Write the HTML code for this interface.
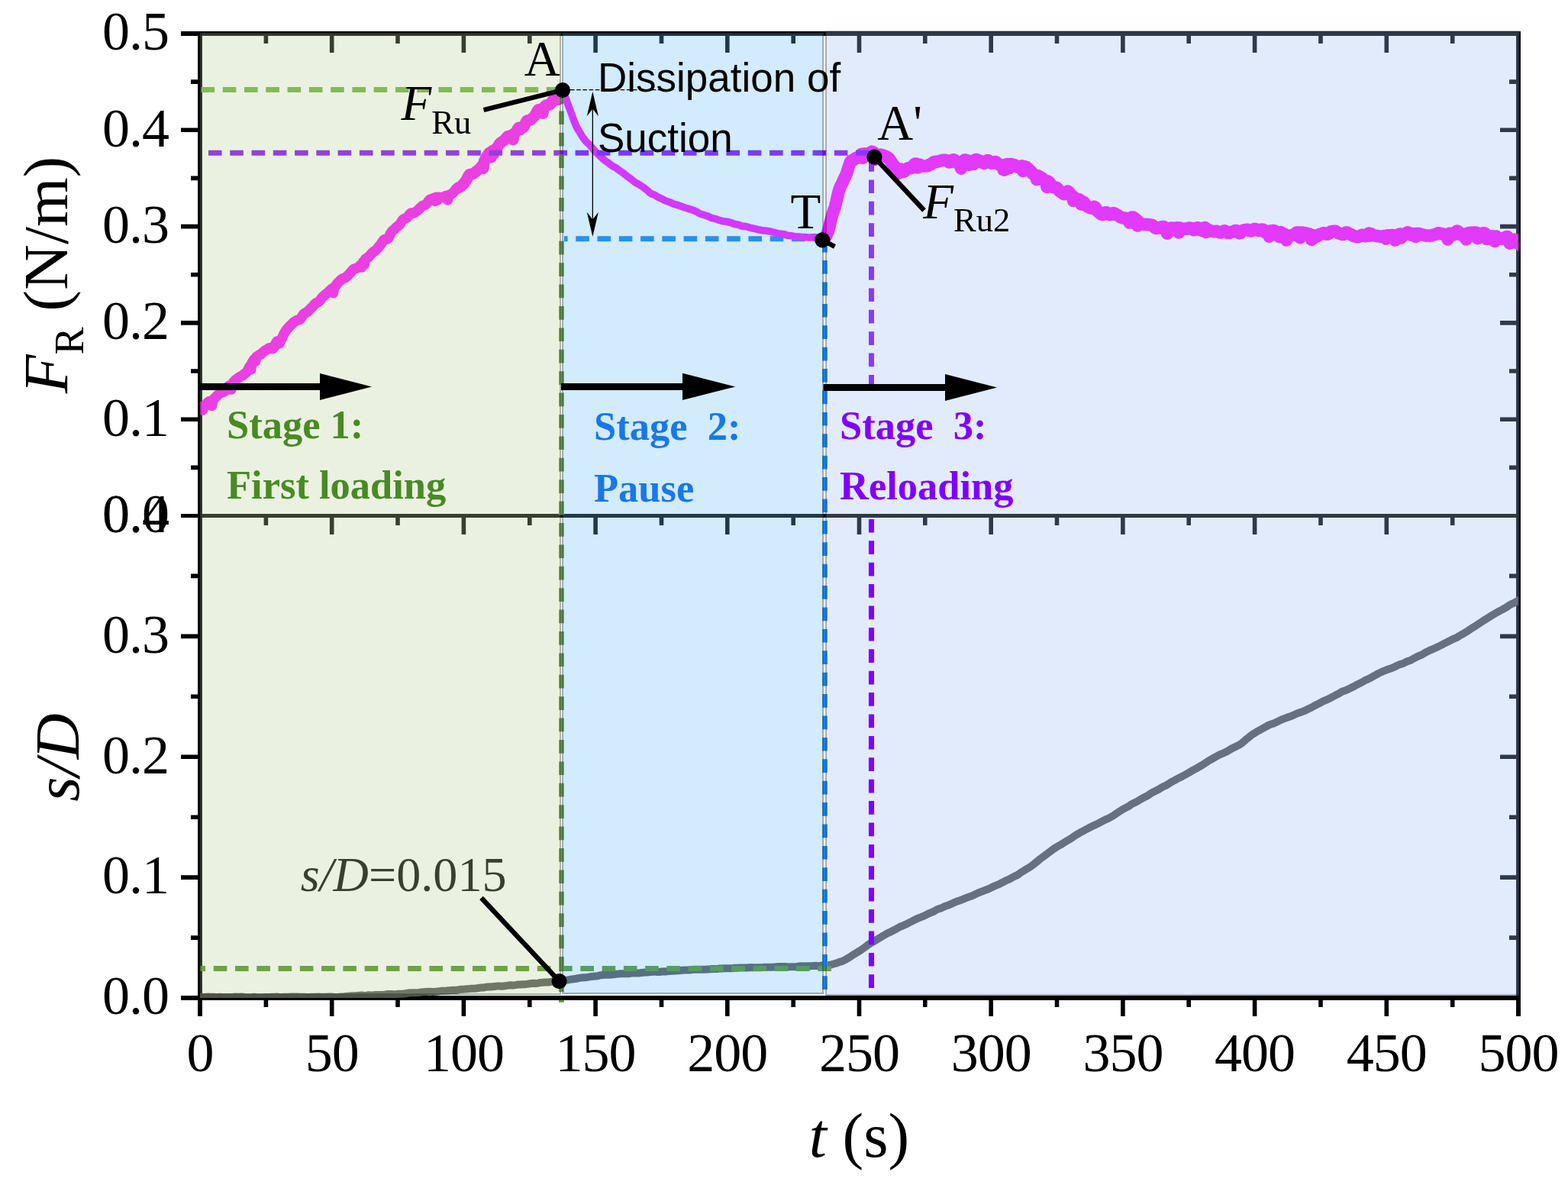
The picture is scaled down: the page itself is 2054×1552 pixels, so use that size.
<!DOCTYPE html>
<html lang="en"><head><meta charset="utf-8"><title>F_R and s/D versus t</title>
<style>html,body{margin:0;padding:0;background:#fff}svg{display:block}text{font-family:"Liberation Serif","DejaVu Serif",serif;fill:#000}.sans{font-family:"Liberation Sans","DejaVu Sans",sans-serif}.tick{font-size:72px;letter-spacing:-1px}.ann{font-size:65px}.ttl{font-size:83px}.stg{font-size:52.5px;font-weight:bold}</style></head><body>
<svg width="2054" height="1552" viewBox="0 0 2054 1552">
<rect width="2054" height="1552" fill="#fff"/>
<g stroke="#000" fill="none" stroke-linecap="butt">
<path stroke-width="5.9" d="M262 41.05 V1331 M1989 41.05 V1331 M237 44 H1991.95 M237 1307 H1991.95"/>
<path stroke-width="5.2" d="M237 675.5 H1989"/>
<path stroke-width="5.6" d="M348.4 44 V57M348.4 675.5 V688M348.4 1307 V1319M434.7 44 V69M434.7 675.5 V700M434.7 1307 V1331M521.0 44 V57M521.0 675.5 V688M521.0 1307 V1319M607.4 44 V69M607.4 675.5 V700M607.4 1307 V1331M693.8 44 V57M693.8 675.5 V688M693.8 1307 V1319M780.1 44 V69M780.1 675.5 V700M780.1 1307 V1331M866.5 44 V57M866.5 675.5 V688M866.5 1307 V1319M952.8 44 V69M952.8 675.5 V700M952.8 1307 V1331M1039.2 44 V57M1039.2 675.5 V688M1039.2 1307 V1319M1125.5 44 V69M1125.5 675.5 V700M1125.5 1307 V1331M1211.8 44 V57M1211.8 675.5 V688M1211.8 1307 V1319M1298.2 44 V69M1298.2 675.5 V700M1298.2 1307 V1331M1384.5 44 V57M1384.5 675.5 V688M1384.5 1307 V1319M1470.9 44 V69M1470.9 675.5 V700M1470.9 1307 V1331M1557.2 44 V57M1557.2 675.5 V688M1557.2 1307 V1319M1643.6 44 V69M1643.6 675.5 V700M1643.6 1307 V1331M1730.0 44 V57M1730.0 675.5 V688M1730.0 1307 V1319M1816.3 44 V69M1816.3 675.5 V700M1816.3 1307 V1331M1902.7 44 V57M1902.7 675.5 V688M1902.7 1307 V1319M262 612.4 H250M1989 612.4 H1977M262 549.2 H237M1989 549.2 H1965M262 486.0 H250M1989 486.0 H1977M262 422.9 H237M1989 422.9 H1965M262 359.8 H250M1989 359.8 H1977M262 296.6 H237M1989 296.6 H1965M262 233.4 H250M1989 233.4 H1977M262 170.3 H237M1989 170.3 H1965M262 107.1 H250M1989 107.1 H1977M262 1228.1 H250M1989 1228.1 H1977M262 1149.1 H237M1989 1149.1 H1965M262 1070.2 H250M1989 1070.2 H1977M262 991.2 H237M1989 991.2 H1965M262 912.3 H250M1989 912.3 H1977M262 833.4 H237M1989 833.4 H1965M262 754.4 H250M1989 754.4 H1977"/>
</g>
<defs><clipPath id="pc1"><rect x="262" y="44" width="1727" height="631.5"/></clipPath><clipPath id="pc2"><rect x="262" y="675.5" width="1727" height="631.5"/></clipPath></defs>
<path d="M738.9 312.8 H1077" stroke="#0a7ee6" stroke-width="7" stroke-dasharray="17.6 10.67" stroke-dashoffset="12.9" fill="none"/>
<g clip-path="url(#pc1)" fill="none" stroke="#ff00ff" stroke-linejoin="round" stroke-linecap="round">
<path d="M258.0 537.1L259.5 536.0L261.0 534.6L262.5 533.4L264.0 532.6L265.5 537.1L267.0 532.6L268.5 531.7L270.0 529.9L271.5 527.7L273.0 526.2L274.5 525.6L276.0 525.6L277.5 531.4L279.0 524.0L280.5 522.3L282.0 520.7L283.5 519.4L285.0 517.7L286.5 516.0L288.0 514.6L289.5 514.0L291.0 514.0L292.5 513.6L294.0 512.2L295.5 509.9L297.0 510.7L298.5 506.1L300.0 505.4L301.5 504.8L303.0 510.0L304.5 502.2L306.0 500.2L307.5 498.5L309.0 497.3L310.5 496.2L312.0 495.1L313.5 493.9L315.0 493.2L316.5 492.5L318.0 491.4L319.5 490.1L321.0 489.2L322.5 488.0L324.0 485.9L325.5 482.9L327.0 479.9L328.5 484.0L330.0 475.2L331.5 472.9L333.0 470.5L334.5 473.4L336.0 467.2L337.5 466.5L339.0 465.3L340.5 464.5L342.0 463.7L343.5 462.3L345.0 461.1L346.5 459.7L348.0 458.7L349.5 457.8L351.0 456.8L352.5 455.9L354.0 455.5L355.5 456.1L357.0 456.7L358.5 455.5L360.0 452.7L361.5 449.3L363.0 447.0L364.5 446.4L366.0 449.9L367.5 446.3L369.0 443.8L370.5 440.5L372.0 437.1L373.5 434.6L375.0 432.3L376.5 430.5L378.0 428.8L379.5 427.3L381.0 425.7L382.5 424.2L384.0 422.8L385.5 421.7L387.0 420.7L388.5 419.6L390.0 419.1L391.5 419.0L393.0 418.3L394.5 416.5L396.0 413.9L397.5 411.7L399.0 410.4L400.5 409.7L402.0 408.9L403.5 407.4L405.0 405.9L406.5 404.4L408.0 403.1L409.5 401.5L411.0 399.7L412.5 398.1L414.0 397.0L415.5 396.2L417.0 395.4L418.5 394.3L420.0 392.4L421.5 390.1L423.0 388.5L424.5 387.3L426.0 386.0L427.5 384.8L429.0 383.7L430.5 382.2L432.0 380.7L433.5 379.1L435.0 378.0L436.5 383.8L438.0 376.1L439.5 374.4L441.0 372.4L442.5 370.5L444.0 369.1L445.5 367.5L447.0 366.1L448.5 365.1L450.0 364.5L451.5 364.1L453.0 363.2L454.5 361.9L456.0 360.4L457.5 358.8L459.0 357.2L460.5 355.4L462.0 353.7L463.5 352.3L465.0 351.8L466.5 351.6L468.0 351.0L469.5 349.9L471.0 348.4L472.5 346.9L474.0 349.9L475.5 343.1L477.0 346.7L478.5 339.3L480.0 338.4L481.5 337.7L483.0 336.4L484.5 334.7L486.0 333.0L487.5 331.3L489.0 329.9L490.5 329.0L492.0 328.1L493.5 326.6L495.0 324.7L496.5 322.8L498.0 321.0L499.5 319.0L501.0 316.5L502.5 314.5L504.0 313.4L505.5 313.4L507.0 313.3L508.5 312.1L510.0 309.3L511.5 305.9L513.0 303.6L514.5 302.0L516.0 300.8L517.5 299.5L519.0 297.8L520.5 296.6L522.0 295.5L523.5 294.1L525.0 291.9L526.5 289.4L528.0 287.5L529.5 286.6L531.0 286.1L532.5 285.4L534.0 284.0L535.5 282.1L537.0 280.3L538.5 279.1L540.0 279.0L541.5 279.2L543.0 278.6L544.5 277.5L546.0 276.4L547.5 275.2L549.0 273.8L550.5 272.2L552.0 270.7L553.5 269.5L555.0 268.9L556.5 268.5L558.0 267.7L559.5 266.1L561.0 263.8L562.5 261.9L564.0 260.9L565.5 260.5L567.0 260.1L568.5 259.2L570.0 263.4L571.5 258.3L573.0 262.5L574.5 258.3L576.0 258.4L577.5 258.5L579.0 258.6L580.5 258.5L582.0 257.6L583.5 256.6L585.0 256.3L586.5 262.0L588.0 255.7L589.5 254.9L591.0 254.2L592.5 253.3L594.0 252.1L595.5 250.0L597.0 248.0L598.5 246.8L600.0 246.0L601.0 245.7" stroke-width="13.5"/>
<path d="M600.0 246.2L601.5 245.3L603.0 244.8L604.5 243.7L606.0 241.9L607.5 240.3L609.0 238.7L610.5 236.8L612.0 233.7L613.5 230.6L615.0 228.5L616.5 227.9L618.0 227.9L619.5 227.7L621.0 226.7L622.5 225.5L624.0 224.3L625.5 223.2L627.0 221.9L628.5 220.6L630.0 219.1L631.5 217.0L633.0 220.5L634.5 210.6L636.0 208.1L637.5 205.5L639.0 203.0L640.5 200.8L642.0 199.4L643.5 206.0L645.0 197.4L646.5 202.0L648.0 195.8L649.5 195.0L651.0 193.5L652.5 191.1L654.0 188.7L655.5 187.1L657.0 186.0L658.5 185.1L660.0 184.0L661.5 182.5L663.0 180.7L664.5 179.1L666.0 178.1L667.5 177.9L669.0 177.8L670.5 176.8L672.0 182.9L673.5 174.7L675.0 173.6L676.5 171.8L678.0 169.3L679.5 167.1L681.0 170.3L682.5 167.1L684.0 167.7L685.5 167.0L687.0 164.4L688.5 161.0L690.0 158.3L691.5 157.4L693.0 157.6L694.5 157.3L696.0 155.9L697.5 154.6L699.0 153.2L700.5 151.7L702.0 149.1L703.5 145.9L705.0 143.8L706.5 143.2L708.0 143.4L709.5 143.3L711.0 148.5L712.5 140.5L714.0 138.9L715.5 137.8L717.0 137.6L718.5 137.7L720.0 137.2L721.5 135.5L723.0 132.9L724.5 130.8L726.0 130.2L727.5 130.4L729.0 130.7L730.5 130.6L732.0 129.9L733.5 129.3L735.0 128.1L736.5 125.6L737.5 123.4" stroke-width="15"/>
<path d="M737.0 121.9L739.0 124.0L741.0 128.1L743.0 134.0L745.0 139.5L747.0 144.7L749.0 150.3L751.0 155.8L753.0 160.9L755.0 165.6L757.0 169.2L759.0 172.5L761.0 175.9L763.0 179.2L765.0 182.0L767.0 184.6L769.0 186.6L771.0 188.3L773.0 190.5L775.0 192.9L777.0 195.3L779.0 197.5L781.0 199.7L783.0 201.7L785.0 203.5L787.0 205.3L789.0 207.2L791.0 209.0L793.0 210.7L795.0 212.0L797.0 213.3L799.0 214.9L801.0 216.6L803.0 217.9L805.0 218.8L807.0 219.9L809.0 221.4L811.0 223.0L813.0 224.4L815.0 225.8L817.0 227.1L819.0 228.7L821.0 230.4L823.0 231.9L825.0 233.4L827.0 234.8L829.0 236.4L831.0 238.1L833.0 239.5L835.0 240.5L837.0 241.6L839.0 242.9L841.0 244.1L843.0 245.5L845.0 247.1L847.0 248.5L849.0 250.3L851.0 252.2L853.0 253.7L855.0 254.4L857.0 255.0L859.0 256.2L861.0 257.6L863.0 258.6L865.0 259.5L867.0 260.4L869.0 261.5L871.0 262.6L873.0 263.4L875.0 264.0L877.0 264.7L879.0 265.6L881.0 266.6L883.0 267.4L885.0 267.9L887.0 268.4L889.0 269.1L891.0 269.8L893.0 270.4L895.0 271.2L897.0 271.9L899.0 272.5L901.0 273.1L903.0 273.8L905.0 274.4L907.0 275.0L909.0 275.8L911.0 276.6L913.0 277.5L915.0 278.8L917.0 280.0L919.0 280.6L921.0 281.1L923.0 281.8L925.0 282.4L927.0 283.1L929.0 284.0L931.0 285.1L933.0 285.7L935.0 286.1L937.0 286.6L939.0 287.3L941.0 288.0L943.0 288.6L945.0 289.2L947.0 289.8L949.0 290.0L951.0 290.1L953.0 290.5L955.0 291.0L957.0 291.5L959.0 292.3L961.0 293.2L963.0 293.8L965.0 293.9L967.0 294.2L969.0 295.0L971.0 296.0L973.0 296.4L975.0 296.4L977.0 296.5L979.0 297.1L981.0 297.9L983.0 298.4L985.0 298.8L987.0 299.2L989.0 299.7L991.0 300.2L993.0 300.7L995.0 301.0L997.0 301.4L999.0 301.7L1001.0 301.9L1003.0 302.2L1005.0 302.4L1007.0 302.7L1009.0 303.1L1011.0 303.6L1013.0 304.1L1015.0 304.7L1017.0 305.3L1019.0 305.7L1021.0 306.0L1023.0 306.4L1025.0 306.5L1027.0 306.7L1029.0 307.4L1031.0 308.2L1033.0 308.6L1035.0 308.7L1037.0 308.9L1039.0 309.3L1041.0 309.8L1043.0 310.1L1045.0 310.1L1047.0 310.1L1049.0 310.3L1051.0 310.5L1053.0 310.6L1055.0 310.6L1057.0 310.7L1059.0 311.0L1061.0 311.0L1063.0 310.9L1065.0 310.7L1067.0 310.6L1069.0 311.0L1071.0 311.7L1073.0 312.3L1075.0 312.8L1077.0 313.4L1079.0 312.1L1079.5 312.0" stroke-width="9.6"/>
<path d="M1079.0 312.8L1080.5 311.2L1082.0 309.4L1083.5 305.9L1085.0 302.4L1086.5 296.6L1088.0 290.0L1089.5 283.8L1091.0 278.9L1092.5 274.7L1094.0 270.3L1095.5 264.3L1097.0 257.3L1098.5 251.1L1100.0 246.6L1101.5 243.1L1103.0 240.5L1104.5 237.0L1106.0 233.8L1107.5 230.8L1109.0 227.2L1110.5 222.5L1112.0 217.5L1113.5 213.0L1115.0 210.5L1116.5 210.0L1118.0 209.5L1119.5 208.2L1121.0 207.2L1122.5 206.9L1124.0 206.4L1125.5 205.2L1127.0 203.3L1128.5 201.7L1130.0 206.9L1131.5 201.5L1133.0 201.7L1134.5 201.4L1136.0 201.5L1137.5 201.8L1139.0 201.4L1140.5 200.1L1142.0 198.5L1143.5 199.0L1145.0 200.1L1146.5 208.9L1148.0 207.2L1149.5 204.0L1151.0 203.7L1152.5 202.8L1154.0 202.6L1155.5 203.0L1157.0 203.5L1158.5 204.0L1160.0 204.7L1161.5 205.5L1163.0 206.4L1164.5 207.7L1166.0 209.7L1167.5 212.2L1169.0 214.1L1170.5 216.2L1172.0 218.2L1173.5 219.9L1175.0 220.7L1176.5 227.0L1178.0 226.2L1179.5 221.4L1181.0 222.5L1182.5 223.7L1184.0 224.7L1185.5 223.8L1187.0 222.1L1188.5 220.7L1190.0 220.1L1191.5 220.1L1193.0 220.2L1194.5 219.5L1196.0 217.7L1197.5 215.4L1199.0 214.5L1200.5 214.7L1202.0 219.4L1203.5 215.6L1205.0 215.8L1206.5 216.6L1208.0 217.4L1209.5 217.5L1211.0 217.5L1212.5 217.5L1214.0 217.4L1215.5 216.9L1217.0 216.1L1218.5 215.3L1220.0 214.8L1221.5 213.7L1223.0 212.5L1224.5 211.9L1226.0 211.8L1227.5 211.7L1229.0 211.5L1230.5 211.0L1232.0 210.5L1233.5 210.1L1235.0 209.8L1236.5 209.7L1238.0 209.8L1239.5 209.9L1241.0 210.8L1242.5 212.1L1244.0 212.6L1245.5 211.9L1247.0 210.3L1248.5 209.2L1250.0 209.5L1251.5 211.1L1253.0 212.8L1254.5 213.3L1256.0 213.4L1257.5 213.6L1259.0 220.7L1260.5 213.0L1262.0 211.0L1263.5 209.6L1265.0 209.6L1266.5 210.2L1268.0 210.8L1269.5 215.9L1271.0 210.9L1272.5 211.1L1274.0 211.2L1275.5 214.8L1277.0 209.7L1278.5 208.9L1280.0 209.1L1281.5 210.0L1283.0 210.9L1284.5 211.2L1286.0 212.0L1287.5 213.2L1289.0 213.9L1290.5 213.1L1292.0 211.3L1293.5 210.1L1295.0 210.4L1296.5 211.8L1298.0 213.3L1299.5 213.8L1301.0 213.3L1302.5 212.4L1304.0 212.1L1305.5 212.9L1307.0 214.2L1308.5 215.3L1310.0 215.8L1311.5 216.8L1313.0 217.8L1314.5 222.3L1316.0 222.7L1317.5 215.7L1319.0 215.1L1320.5 215.2L1322.0 220.2L1323.5 214.9L1325.0 215.1L1326.5 215.5L1328.0 216.0L1329.5 216.3L1331.0 217.3L1332.5 218.6L1334.0 219.2L1335.5 218.9L1337.0 217.9L1338.5 217.3L1340.0 224.0L1341.5 218.0L1343.0 222.0L1344.5 219.0L1346.0 220.3L1347.5 222.0L1349.0 223.2L1350.5 224.6L1352.0 226.5L1353.5 228.1L1355.0 229.2L1356.5 229.4L1358.0 235.1L1359.5 230.2L1361.0 231.1L1362.5 231.9L1364.0 232.7L1365.5 233.7L1367.0 235.4L1368.5 236.8L1370.0 237.7L1371.5 245.0L1373.0 237.6L1374.5 238.7L1376.0 240.9L1377.5 243.4L1379.0 244.9L1380.5 245.4L1382.0 245.4L1383.5 245.7L1385.0 246.7L1386.5 248.5L1388.0 250.2L1389.5 251.1L1391.0 252.2L1392.5 253.4L1394.0 254.2L1395.5 253.5L1397.0 251.7L1398.5 250.6L1400.0 251.3L1401.5 253.2L1403.0 255.2L1404.5 256.4L1406.0 262.9L1407.5 259.0L1409.0 260.3L1410.5 261.0L1412.0 261.0L1413.5 261.2L1415.0 262.0L1416.5 267.5L1418.0 267.8L1419.5 264.6L1421.0 266.5L1422.5 268.8L1424.0 270.2L1425.5 270.9L1427.0 271.6L1428.5 272.4L1430.0 272.8L1431.5 271.8L1433.0 270.8L1434.5 271.5L1436.0 273.5L1437.5 276.0L1439.0 277.7L1440.5 278.9L1442.0 280.2L1443.5 280.9L1445.0 280.9L1446.5 279.6L1448.0 278.3L1449.5 278.3L1451.0 279.3L1452.5 280.5L1454.0 281.2L1455.5 280.9L1457.0 279.8L1458.5 279.1L1460.0 279.5L1461.5 280.5L1463.0 281.6L1464.5 282.1L1466.0 283.0L1467.5 284.2L1469.0 284.9L1470.5 285.3L1472.0 285.5L1473.5 285.6L1475.0 285.9L1476.5 286.4L1478.0 286.9L1479.5 291.6L1481.0 286.0L1482.5 284.7L1484.0 284.4L1485.5 285.2L1487.0 286.5L1488.5 287.6L1490.0 295.6L1491.5 290.5L1493.0 292.4L1494.5 293.3L1496.0 293.5L1497.5 293.5L1499.0 293.8L1500.5 294.1L1502.0 294.1L1503.5 294.1L1505.0 294.3L1506.5 294.4L1508.0 294.6L1509.5 294.9L1511.0 296.2L1512.5 297.9L1514.0 298.9L1515.5 298.8L1517.0 298.3L1518.5 298.1L1520.0 298.4L1521.5 297.7L1523.0 296.9L1524.5 297.0L1526.0 298.6L1527.5 300.7L1529.0 305.8L1530.5 301.0L1532.0 299.8L1533.5 298.8L1535.0 298.6L1536.5 298.7L1538.0 298.8L1539.5 298.9L1541.0 298.6L1542.5 298.2L1544.0 304.5L1545.5 298.5L1547.0 299.2L1548.5 299.7L1550.0 299.8L1551.5 299.7L1553.0 299.6L1554.5 299.7L1556.0 299.3L1557.5 298.7L1559.0 298.4L1560.5 299.0L1562.0 300.3L1563.5 301.2L1565.0 300.9L1566.5 299.7L1568.0 298.5L1569.5 298.3L1571.0 299.5L1572.5 301.2L1574.0 302.0L1575.5 301.1L1577.0 299.3L1578.5 297.9L1580.0 304.1L1581.5 299.9L1583.0 301.6L1584.5 302.0L1586.0 302.3L1587.5 302.7L1589.0 303.1L1590.5 303.2L1592.0 302.9L1593.5 302.8L1595.0 303.2L1596.5 303.8L1598.0 304.4L1599.5 304.5L1601.0 303.8L1602.5 302.8L1604.0 302.3L1605.5 303.0L1607.0 304.3L1608.5 305.2L1610.0 305.2L1611.5 304.6L1613.0 303.9L1614.5 303.6L1616.0 303.1L1617.5 302.4L1619.0 301.9L1620.5 302.5L1622.0 304.1L1623.5 305.4L1625.0 305.0L1626.5 303.4L1628.0 301.9L1629.5 301.5L1631.0 301.2L1632.5 301.0L1634.0 300.8L1635.5 301.2L1637.0 302.2L1638.5 302.7L1640.0 302.2L1641.5 300.8L1643.0 300.0L1644.5 300.0L1646.0 300.7L1647.5 301.6L1649.0 302.2L1650.5 301.9L1652.0 300.9L1653.5 300.4L1655.0 301.0L1656.5 302.8L1658.0 304.7L1659.5 305.2L1661.0 304.3L1662.5 309.7L1664.0 302.6L1665.5 302.5L1667.0 302.2L1668.5 301.9L1670.0 302.5L1671.5 304.6L1673.0 306.7L1674.5 307.2L1676.0 310.2L1677.5 304.0L1679.0 308.2L1680.5 309.5L1682.0 306.2L1683.5 307.8L1685.0 314.5L1686.5 308.5L1688.0 308.9L1689.5 309.1L1691.0 308.7L1692.5 308.0L1694.0 307.7L1695.5 307.2L1697.0 305.7L1698.5 304.6L1700.0 304.5L1701.5 304.5L1703.0 311.3L1704.5 304.4L1706.0 304.6L1707.5 304.9L1709.0 305.1L1710.5 305.4L1712.0 305.9L1713.5 306.3L1715.0 306.5L1716.5 307.1L1718.0 313.9L1719.5 307.9L1721.0 308.6L1722.5 309.6L1724.0 310.1L1725.5 309.5L1727.0 308.2L1728.5 307.0L1730.0 306.6L1731.5 306.1L1733.0 305.4L1734.5 305.2L1736.0 305.8L1737.5 306.5L1739.0 306.7L1740.5 305.9L1742.0 304.5L1743.5 303.3L1745.0 303.0L1746.5 302.9L1748.0 302.7L1749.5 302.8L1751.0 303.7L1752.5 305.0L1754.0 305.7L1755.5 306.0L1757.0 306.6L1758.5 307.0L1760.0 307.0L1761.5 305.8L1763.0 304.5L1764.5 304.4L1766.0 305.1L1767.5 306.2L1769.0 306.9L1770.5 307.5L1772.0 308.5L1773.5 309.2L1775.0 309.6L1776.5 310.0L1778.0 310.3L1779.5 310.3L1781.0 309.6L1782.5 308.5L1784.0 307.8L1785.5 307.9L1787.0 308.8L1788.5 309.3L1790.0 308.7L1791.5 307.0L1793.0 305.4L1794.5 308.8L1796.0 306.2L1797.5 307.7L1799.0 308.4L1800.5 308.6L1802.0 308.8L1803.5 309.0L1805.0 309.2L1806.5 309.5L1808.0 309.8L1809.5 310.1L1811.0 309.7L1812.5 309.1L1814.0 309.1L1815.5 312.7L1817.0 308.5L1818.5 308.2L1820.0 308.3L1821.5 308.3L1823.0 308.1L1824.5 308.0L1826.0 308.6L1827.5 314.6L1829.0 309.7L1830.5 308.9L1832.0 307.5L1833.5 306.4L1835.0 311.6L1836.5 307.0L1838.0 307.8L1839.5 307.8L1841.0 306.6L1842.5 305.1L1844.0 304.3L1845.5 304.9L1847.0 306.4L1848.5 307.8L1850.0 307.7L1851.5 306.8L1853.0 305.9L1854.5 310.1L1856.0 306.0L1857.5 305.9L1859.0 306.1L1860.5 306.6L1862.0 307.2L1863.5 307.6L1865.0 307.8L1866.5 308.2L1868.0 308.7L1869.5 308.6L1871.0 308.6L1872.5 308.7L1874.0 308.6L1875.5 308.3L1877.0 307.8L1878.5 307.4L1880.0 307.1L1881.5 306.4L1883.0 305.7L1884.5 305.3L1886.0 305.6L1887.5 306.1L1889.0 306.3L1890.5 306.7L1892.0 307.7L1893.5 308.4L1895.0 308.1L1896.5 313.5L1898.0 306.0L1899.5 305.7L1901.0 306.3L1902.5 307.1L1904.0 307.5L1905.5 306.4L1907.0 304.1L1908.5 302.5L1910.0 302.9L1911.5 305.0L1913.0 307.2L1914.5 307.7L1916.0 307.5L1917.5 307.3L1919.0 307.1L1920.5 313.5L1922.0 305.7L1923.5 305.1L1925.0 304.9L1926.5 304.8L1928.0 304.7L1929.5 304.7L1931.0 304.6L1932.5 304.6L1934.0 304.8L1935.5 312.2L1937.0 306.9L1938.5 308.0L1940.0 308.0L1941.5 306.7L1943.0 305.3L1944.5 305.3L1946.0 306.6L1947.5 312.9L1949.0 309.2L1950.5 309.3L1952.0 313.2L1953.5 309.5L1955.0 309.7L1956.5 309.5L1958.0 316.0L1959.5 309.4L1961.0 310.4L1962.5 311.6L1964.0 312.3L1965.5 312.4L1967.0 312.6L1968.5 312.7L1970.0 312.5L1971.5 311.3L1973.0 310.2L1974.5 310.1L1976.0 311.4L1977.5 318.7L1979.0 314.1L1980.5 314.1L1982.0 313.8L1983.5 313.7L1985.0 314.0L1986.5 317.9L1988.0 314.7L1989.5 314.9L1991.0 315.4L1992.5 321.8L1993.0 316.1" stroke-width="16.5"/>
</g>
<g clip-path="url(#pc2)"><path d="M258.0 1305.8L261.0 1305.8L264.0 1305.8L267.0 1306.0L270.0 1305.8L273.0 1305.6L276.0 1305.7L279.0 1305.8L282.0 1306.0L285.0 1306.0L288.0 1305.8L291.0 1305.9L294.0 1306.0L297.0 1306.0L300.0 1306.0L303.0 1306.1L306.0 1305.7L309.0 1305.5L312.0 1305.7L315.0 1305.6L318.0 1305.6L321.0 1306.0L324.0 1306.2L327.0 1306.2L330.0 1306.0L333.0 1305.7L336.0 1306.1L339.0 1306.4L342.0 1306.3L345.0 1306.3L348.0 1306.1L351.0 1306.1L354.0 1306.0L357.0 1305.7L360.0 1305.7L363.0 1305.6L366.0 1305.9L369.0 1306.1L372.0 1305.7L375.0 1305.7L378.0 1305.7L381.0 1305.6L384.0 1305.5L387.0 1305.4L390.0 1305.5L393.0 1305.8L396.0 1305.8L399.0 1305.8L402.0 1306.0L405.0 1305.9L408.0 1305.7L411.0 1305.7L414.0 1305.7L417.0 1305.6L420.0 1305.7L423.0 1305.8L426.0 1305.7L429.0 1305.6L432.0 1305.4L435.0 1305.6L438.0 1305.9L441.0 1305.9L444.0 1305.8L447.0 1305.6L450.0 1305.4L453.0 1305.1L456.0 1304.8L459.0 1304.5L462.0 1304.3L465.0 1304.2L468.0 1304.1L471.0 1303.8L474.0 1303.6L477.0 1303.9L480.0 1303.7L483.0 1303.3L486.0 1303.4L489.0 1303.4L492.0 1303.0L495.0 1303.0L498.0 1303.1L501.0 1303.0L504.0 1302.8L507.0 1302.1L510.0 1302.0L513.0 1302.0L516.0 1302.2L519.0 1302.2L522.0 1301.8L525.0 1301.7L528.0 1301.7L531.0 1301.2L534.0 1300.7L537.0 1300.3L540.0 1300.2L543.0 1300.3L546.0 1300.2L549.0 1300.0L552.0 1299.5L555.0 1299.2L558.0 1298.9L561.0 1298.8L564.0 1298.7L567.0 1298.9L570.0 1298.8L573.0 1298.5L576.0 1298.1L579.0 1297.7L582.0 1297.7L585.0 1297.5L588.0 1297.2L591.0 1297.0L594.0 1296.8L597.0 1297.0L600.0 1296.5L603.0 1295.8L606.0 1295.7L609.0 1295.5L612.0 1295.2L615.0 1295.0L618.0 1294.7L621.0 1294.8L624.0 1294.6L627.0 1293.9L630.0 1293.6L633.0 1293.5L636.0 1292.9L639.0 1292.5L642.0 1292.5L645.0 1292.2L648.0 1291.9L651.0 1291.6L654.0 1291.5L657.0 1291.7L660.0 1291.4L663.0 1291.1L666.0 1290.6L669.0 1290.3L672.0 1290.5L675.0 1290.1L678.0 1289.6L681.0 1289.4L684.0 1289.2L687.0 1289.2L690.0 1288.9L693.0 1288.5L696.0 1288.0L699.0 1287.7L702.0 1288.0L705.0 1287.6L708.0 1286.9L711.0 1286.7L714.0 1286.5L717.0 1286.6L720.0 1286.3L723.0 1285.7L726.0 1285.4L729.0 1285.0L732.0 1284.6L735.0 1284.1L738.0 1283.8L741.0 1283.7L744.0 1283.4L747.0 1282.8L750.0 1282.4L753.0 1282.1L756.0 1281.5L759.0 1280.9L762.0 1280.5L765.0 1280.3L768.0 1280.2L771.0 1279.6L774.0 1279.1L777.0 1278.8L780.0 1278.5L783.0 1278.2L786.0 1277.4L789.0 1277.0L792.0 1276.7L795.0 1276.7L798.0 1276.8L801.0 1276.6L804.0 1276.3L807.0 1275.7L810.0 1275.5L813.0 1275.2L816.0 1275.3L819.0 1275.3L822.0 1275.2L825.0 1274.9L828.0 1274.3L831.0 1274.6L834.0 1274.6L837.0 1274.4L840.0 1274.1L843.0 1273.8L846.0 1273.6L849.0 1273.4L852.0 1273.0L855.0 1272.8L858.0 1272.6L861.0 1272.9L864.0 1273.0L867.0 1272.4L870.0 1272.3L873.0 1272.4L876.0 1272.0L879.0 1271.7L882.0 1271.8L885.0 1271.6L888.0 1271.3L891.0 1271.0L894.0 1270.7L897.0 1270.5L900.0 1270.4L903.0 1270.6L906.0 1270.1L909.0 1269.8L912.0 1269.8L915.0 1269.8L918.0 1269.8L921.0 1269.8L924.0 1269.7L927.0 1269.4L930.0 1269.2L933.0 1268.9L936.0 1269.1L939.0 1269.1L942.0 1268.6L945.0 1268.4L948.0 1268.2L951.0 1268.3L954.0 1268.3L957.0 1268.3L960.0 1268.1L963.0 1267.8L966.0 1267.7L969.0 1267.6L972.0 1267.6L975.0 1267.6L978.0 1267.6L981.0 1267.3L984.0 1267.1L987.0 1267.2L990.0 1267.2L993.0 1267.3L996.0 1267.2L999.0 1267.1L1002.0 1266.8L1005.0 1266.7L1008.0 1266.8L1011.0 1266.7L1014.0 1266.6L1017.0 1266.2L1020.0 1266.1L1023.0 1266.0L1026.0 1265.9L1029.0 1265.9L1032.0 1266.4L1035.0 1266.3L1038.0 1266.2L1041.0 1266.2L1044.0 1266.2L1047.0 1265.4L1050.0 1265.3L1053.0 1265.5L1056.0 1265.3L1059.0 1265.2L1062.0 1265.3L1065.0 1265.1L1068.0 1264.7L1071.0 1265.0L1074.0 1265.0L1077.0 1264.4L1080.0 1264.4L1083.0 1264.5L1086.0 1264.0L1089.0 1263.3L1092.0 1262.5L1095.0 1261.7L1098.0 1260.6L1101.0 1259.6L1104.0 1258.7L1107.0 1257.1L1110.0 1255.4L1113.0 1253.7L1116.0 1251.5L1119.0 1249.6L1122.0 1247.9L1125.0 1246.0L1128.0 1244.1L1131.0 1242.0L1134.0 1239.9L1137.0 1237.5L1140.0 1235.5L1143.0 1233.9L1146.0 1232.1L1149.0 1230.4L1152.0 1228.5L1155.0 1226.7L1158.0 1225.0L1161.0 1223.2L1164.0 1221.6L1167.0 1220.3L1170.0 1218.8L1173.0 1217.3L1176.0 1215.5L1179.0 1213.8L1182.0 1212.7L1185.0 1211.3L1188.0 1210.0L1191.0 1208.4L1194.0 1206.9L1197.0 1205.3L1200.0 1203.9L1203.0 1202.5L1206.0 1201.4L1209.0 1200.2L1212.0 1198.7L1215.0 1197.3L1218.0 1195.8L1221.0 1194.6L1224.0 1193.3L1227.0 1191.4L1230.0 1190.3L1233.0 1189.4L1236.0 1187.9L1239.0 1186.5L1242.0 1185.7L1245.0 1184.4L1248.0 1183.0L1251.0 1181.6L1254.0 1180.4L1257.0 1179.5L1260.0 1178.3L1263.0 1177.0L1266.0 1175.9L1269.0 1174.8L1272.0 1173.8L1275.0 1172.5L1278.0 1171.0L1281.0 1169.7L1284.0 1168.4L1287.0 1167.3L1290.0 1166.1L1293.0 1165.1L1296.0 1163.7L1299.0 1162.3L1302.0 1160.8L1305.0 1159.5L1308.0 1158.4L1311.0 1156.8L1314.0 1155.3L1317.0 1153.7L1320.0 1152.4L1323.0 1151.1L1326.0 1149.3L1329.0 1147.7L1332.0 1146.5L1335.0 1144.5L1338.0 1142.3L1341.0 1140.5L1344.0 1138.6L1347.0 1136.9L1350.0 1135.0L1353.0 1132.8L1356.0 1130.4L1359.0 1128.0L1362.0 1125.4L1365.0 1123.1L1368.0 1121.0L1371.0 1118.7L1374.0 1116.5L1377.0 1114.2L1380.0 1112.0L1383.0 1110.0L1386.0 1108.2L1389.0 1106.6L1392.0 1104.8L1395.0 1102.9L1398.0 1101.0L1401.0 1099.3L1404.0 1097.5L1407.0 1095.3L1410.0 1093.4L1413.0 1091.6L1416.0 1089.9L1419.0 1088.3L1422.0 1086.7L1425.0 1085.1L1428.0 1083.5L1431.0 1082.0L1434.0 1080.6L1437.0 1079.2L1440.0 1077.7L1443.0 1076.1L1446.0 1074.5L1449.0 1073.0L1452.0 1071.8L1455.0 1070.2L1458.0 1068.5L1461.0 1066.4L1464.0 1064.4L1467.0 1062.4L1470.0 1060.5L1473.0 1058.7L1476.0 1057.3L1479.0 1055.7L1482.0 1053.4L1485.0 1051.8L1488.0 1050.5L1491.0 1048.8L1494.0 1047.0L1497.0 1045.2L1500.0 1043.7L1503.0 1042.3L1506.0 1040.2L1509.0 1038.3L1512.0 1036.8L1515.0 1035.2L1518.0 1033.7L1521.0 1031.8L1524.0 1030.1L1527.0 1028.9L1530.0 1027.1L1533.0 1025.1L1536.0 1023.4L1539.0 1021.8L1542.0 1020.1L1545.0 1018.6L1548.0 1017.2L1551.0 1015.5L1554.0 1013.8L1557.0 1012.2L1560.0 1010.4L1563.0 1008.7L1566.0 1007.0L1569.0 1005.4L1572.0 1003.7L1575.0 1001.9L1578.0 1000.0L1581.0 997.9L1584.0 996.0L1587.0 994.4L1590.0 992.6L1593.0 990.9L1596.0 989.3L1599.0 987.8L1602.0 986.6L1605.0 985.2L1608.0 983.7L1611.0 981.9L1614.0 980.1L1617.0 978.7L1620.0 977.2L1623.0 975.8L1626.0 973.8L1629.0 971.4L1632.0 968.7L1635.0 966.3L1638.0 963.9L1641.0 961.6L1644.0 959.9L1647.0 957.9L1650.0 956.3L1653.0 954.7L1656.0 953.0L1659.0 951.4L1662.0 949.6L1665.0 948.5L1668.0 947.7L1671.0 946.3L1674.0 944.9L1677.0 943.3L1680.0 942.0L1683.0 940.9L1686.0 939.8L1689.0 938.7L1692.0 937.7L1695.0 936.4L1698.0 934.9L1701.0 933.8L1704.0 932.7L1707.0 931.7L1710.0 930.5L1713.0 928.9L1716.0 927.5L1719.0 926.0L1722.0 924.2L1725.0 922.7L1728.0 921.3L1731.0 919.6L1734.0 918.0L1737.0 916.9L1740.0 915.5L1743.0 914.0L1746.0 912.4L1749.0 910.8L1752.0 909.3L1755.0 907.6L1758.0 905.8L1761.0 904.8L1764.0 903.6L1767.0 902.2L1770.0 900.8L1773.0 899.3L1776.0 897.6L1779.0 896.0L1782.0 894.7L1785.0 893.0L1788.0 891.2L1791.0 889.9L1794.0 888.5L1797.0 886.9L1800.0 885.2L1803.0 883.5L1806.0 881.9L1809.0 880.4L1812.0 879.1L1815.0 877.9L1818.0 876.8L1821.0 875.8L1824.0 874.6L1827.0 873.3L1830.0 871.9L1833.0 870.4L1836.0 869.6L1839.0 868.5L1842.0 866.8L1845.0 865.7L1848.0 864.8L1851.0 862.9L1854.0 861.3L1857.0 859.9L1860.0 858.5L1863.0 857.3L1866.0 855.4L1869.0 853.7L1872.0 852.3L1875.0 850.9L1878.0 849.7L1881.0 848.3L1884.0 846.9L1887.0 845.4L1890.0 843.8L1893.0 842.2L1896.0 840.8L1899.0 839.3L1902.0 837.7L1905.0 836.4L1908.0 835.2L1911.0 833.3L1914.0 831.5L1917.0 829.9L1920.0 828.0L1923.0 826.2L1926.0 824.1L1929.0 822.1L1932.0 820.4L1935.0 818.4L1938.0 816.4L1941.0 814.4L1944.0 812.4L1947.0 810.7L1950.0 808.7L1953.0 806.8L1956.0 805.0L1959.0 803.2L1962.0 801.5L1965.0 799.9L1968.0 798.4L1971.0 796.7L1974.0 794.9L1977.0 792.7L1980.0 791.1L1983.0 789.8L1986.0 788.2L1989.0 786.5L1992.0 784.5L1993.0 784.0" fill="none" stroke="#505050" stroke-width="10" stroke-linejoin="round" stroke-linecap="butt"/></g>
<g fill="none" stroke-width="7">
<path d="M263.5 117.4 H737" stroke="#6dae3e" stroke-dasharray="17.6 10.67"/>
<path d="M273 200.2 H1138" stroke="#8000ff" stroke-dasharray="17.6 10.67"/>
<path d="M1088.9 1268.4 H262" stroke="#4a9318" stroke-dasharray="17.6 10.67"/>
<path d="M1141.5 207 V509" stroke="#8000ff" stroke-dasharray="17.7 10.7"/>
</g>
<text class="ann" style="font-size:64.2px" x="393.8" y="1167"><tspan font-style="italic">s/D</tspan>=0.015</text>
<g fill="none" stroke-width="6.9">
<path d="M735.45 117 V1312.7" stroke="#5f9a32" stroke-dasharray="17.7 10.7"/>
<path d="M1080.6 312.7 V1297" stroke="#1480ea" stroke-dasharray="17.7 10.7"/>
</g>
<rect x="262" y="43" width="472.9" height="1260" fill="#bccf9b" fill-opacity="0.3"/>
<rect x="262.9" y="43.9" width="471.1" height="1258.2" fill="none" stroke="#000" stroke-opacity="0.3" stroke-width="1.8"/>
<rect x="736.2" y="43" width="342.8" height="1258.8" fill="#69bcf8" fill-opacity="0.3"/>
<rect x="737.1" y="43.9" width="341" height="1257" fill="none" stroke="#000" stroke-opacity="0.3" stroke-width="1.8"/>
<rect x="1081.2" y="40.3" width="909" height="1263.7" fill="#9ebcf6" fill-opacity="0.3"/>
<rect x="1082.1" y="41.2" width="907.2" height="1261.9" fill="none" stroke="#000" stroke-opacity="0.3" stroke-width="1.8"/>
<path d="M1141.5 679.9 V1294" stroke="#8000ff" stroke-width="7.1" stroke-dasharray="17.7 10.7" fill="none"/>
<g stroke="#000" stroke-width="6.4" stroke-linecap="butt" fill="none">
<path d="M633.6 144 L737 118"/>
<path d="M1145.4 205.7 L1210.5 275.5"/>
<path d="M1077.3 314.3 L1093.5 323"/>
<path d="M630.5 1176 L732.6 1285"/>
</g>
<g fill="#000">
<circle cx="737" cy="118.1" r="10.1"/>
<circle cx="1077.3" cy="314.3" r="10.1"/>
<circle cx="1145.4" cy="205.7" r="10.1"/>
<circle cx="732.6" cy="1285.1" r="10.1"/>
</g>
<g fill="#000" stroke="none">
<path d="M262 502 H419 V488.9 L487 506.5 L419 524.1 V511 H262 Z"/>
<path d="M735 501.9 H894 V488.8 L963.2 506.4 L894 524 V510.9 H735 Z"/>
<path d="M1078.6 503 H1238 V489.9 L1306 507.5 L1238 525.1 V512 H1078.6 Z"/>
</g>
<path d="M747 117.7 H866" stroke="#000" stroke-width="1.3" stroke-dasharray="5.6 2.6" fill="none"/>
<path d="M776.35 128 V302" stroke="#000" stroke-width="1.3" fill="none"/>
<path d="M776.35 120.1 L783.9 152.2 L776.35 142.5 L768.8 152.2 Z M776.35 309.9 L783.9 277.8 L776.35 287.5 L768.8 277.8 Z" fill="#000"/>
<g class="tick" text-anchor="end">
<text x="221" y="696.8">0.0</text>
<text x="221" y="570.5">0.1</text>
<text x="221" y="444.2">0.2</text>
<text x="221" y="317.9">0.3</text>
<text x="221" y="191.6">0.4</text>
<text x="221" y="65.3">0.5</text>
<text x="221" y="1328.3">0.0</text>
<text x="221" y="1170.4">0.1</text>
<text x="221" y="1012.5">0.2</text>
<text x="221" y="854.7">0.3</text>
<text x="221" y="696.8">0.4</text>
</g>
<g class="tick" text-anchor="middle">
<text x="262.0" y="1402.5">0</text>
<text x="434.7" y="1402.5">50</text>
<text x="607.4" y="1402.5">100</text>
<text x="780.1" y="1402.5">150</text>
<text x="952.8" y="1402.5">200</text>
<text x="1125.5" y="1402.5">250</text>
<text x="1298.2" y="1402.5">300</text>
<text x="1470.9" y="1402.5">350</text>
<text x="1643.6" y="1402.5">400</text>
<text x="1816.3" y="1402.5">450</text>
<text x="1989.0" y="1402.5">500</text>
</g>
<text class="ttl" text-anchor="middle" x="1125.5" y="1515"><tspan font-style="italic">t</tspan> (s)</text>
<text class="ttl" text-anchor="middle" transform="translate(87.6 360) rotate(-90)"><tspan font-style="italic">F</tspan><tspan font-size="54px" dy="21">R</tspan><tspan dy="-21"> (N/m)</tspan></text>
<text class="ttl" text-anchor="middle" font-style="italic" transform="translate(103.4 992) rotate(-90)">s/D</text>
<text class="ann" x="686.8" y="99">A</text>
<text class="ann" x="1149.2" y="182.6">A'</text>
<text class="ann" x="1035.5" y="298.7">T</text>
<text class="ann" x="525.6" y="156.7"><tspan font-style="italic">F</tspan><tspan font-size="44.5px" dy="17.9" dx="0">Ru</tspan></text>
<text class="ann" x="1209.3" y="286"><tspan font-style="italic">F</tspan><tspan font-size="44.5px" dy="17.1" dx="0">Ru2</tspan></text>
<text class="sans" font-size="53px" x="783" y="120.1">Dissipation of</text>
<text class="sans" font-size="53px" x="783" y="198.8">Suction</text>
<text class="stg" x="297" y="573.5" fill="#488a24" style="fill:#488a24">Stage 1:</text>
<text class="stg" x="297" y="653" style="fill:#488a24">First loading</text>
<text class="stg" x="778" y="576.1" style="fill:#1878e8" xml:space="preserve">Stage  2:</text>
<text class="stg" x="778" y="656.7" style="fill:#1878e8">Pause</text>
<text class="stg" x="1100" y="574.8" style="fill:#8000ff" xml:space="preserve">Stage  3:</text>
<text class="stg" x="1100" y="653.5" style="fill:#8000ff">Reloading</text>
</svg></body></html>
